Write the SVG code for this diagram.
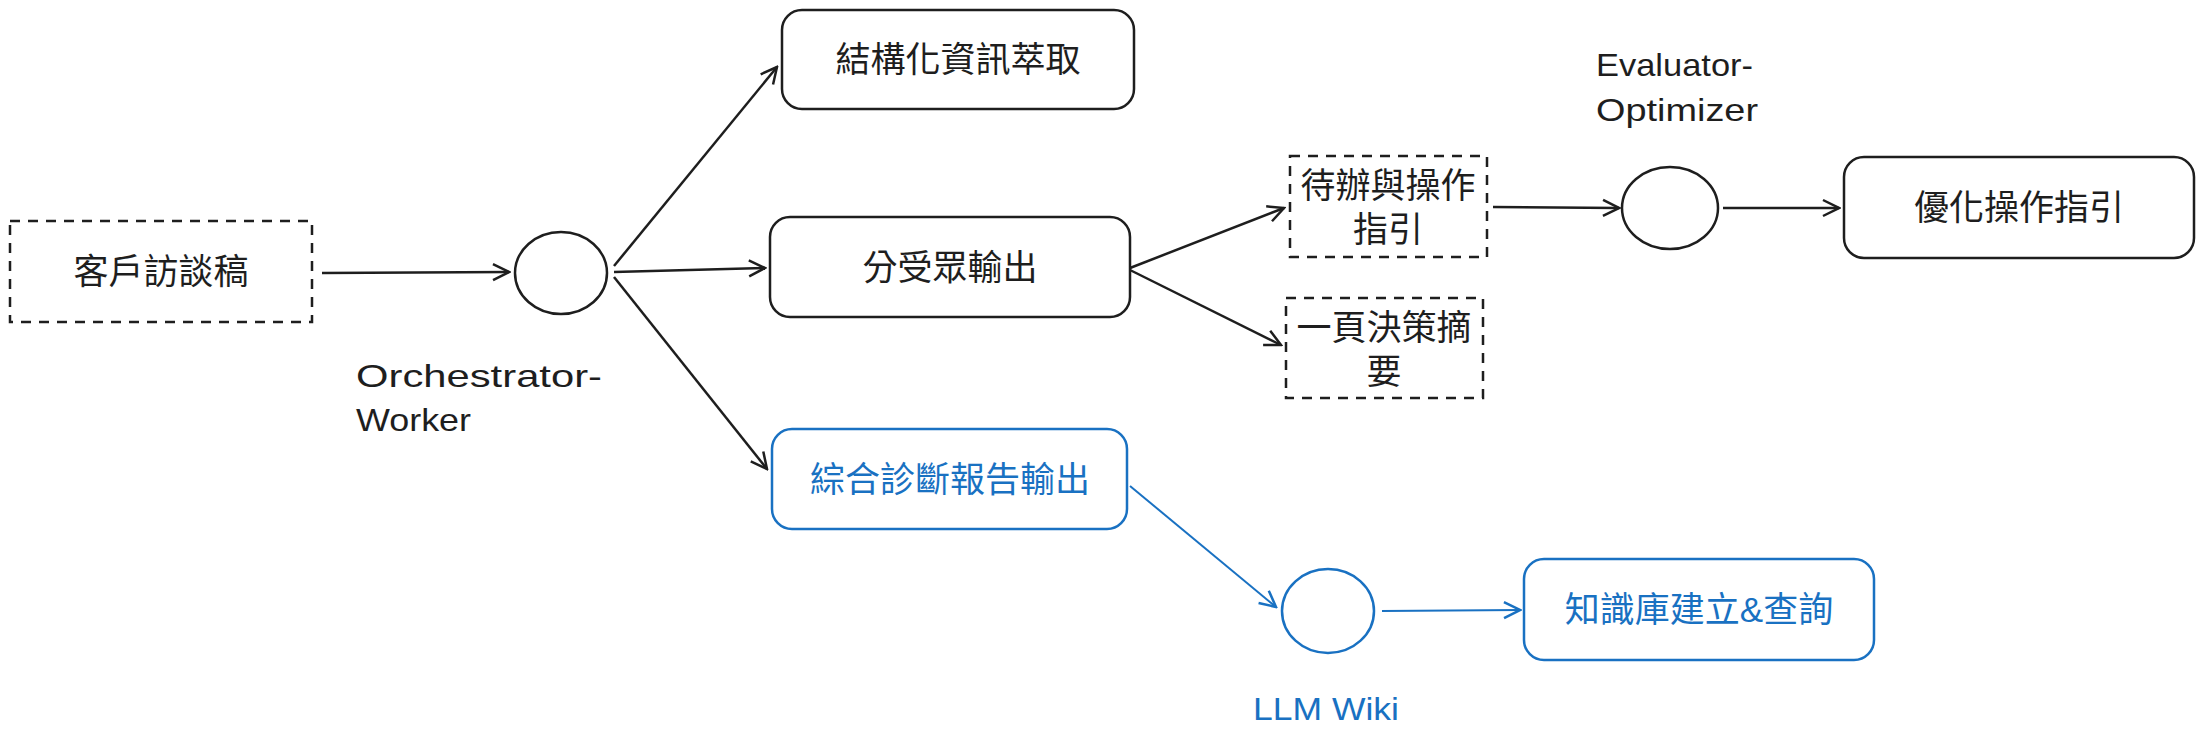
<svg xmlns="http://www.w3.org/2000/svg" width="2203" height="739" viewBox="0 0 2203 739">
<style>
.b{fill:#fff;stroke:#1e1e1e;stroke-width:2.5}
.d{fill:#fff;stroke:#1e1e1e;stroke-width:2.5;stroke-dasharray:10 8}
.bl{fill:#fff;stroke:#1971c2;stroke-width:2.5}
.t{font-family:"Liberation Sans","Noto Sans CJK TC",sans-serif;font-size:35px;fill:#1e1e1e;text-anchor:middle;dominant-baseline:central}
.tb{fill:#1971c2}
.l{font-family:"Liberation Sans",sans-serif;font-size:32px;fill:#1e1e1e}
.c{stroke:#1e1e1e;stroke-width:2.5;fill:none}
.cb{stroke:#1971c2;stroke-width:2;fill:none}
</style>
<defs>
<marker id="a" markerWidth="20" markerHeight="20" refX="18" refY="10" orient="auto" markerUnits="userSpaceOnUse"><path d="M2,2 L18,10 L2,18" fill="none" stroke="#1e1e1e" stroke-width="2.5"/></marker>
<marker id="ab" markerWidth="20" markerHeight="20" refX="18" refY="10" orient="auto" markerUnits="userSpaceOnUse"><path d="M2,2 L18,10 L2,18" fill="none" stroke="#1971c2" stroke-width="2.5"/></marker>
</defs>
<g id="connectors">
<path class="c" d="M322,273 L509,272" marker-end="url(#a)"/>
<path class="c" d="M614,266 L777,67" marker-end="url(#a)"/>
<path class="c" d="M614,272 L765,268" marker-end="url(#a)"/>
<path class="c" d="M614,277 L767,469" marker-end="url(#a)"/>
<path class="c" d="M1130,268 L1284,208" marker-end="url(#a)"/>
<path class="c" d="M1130,270 L1281,345" marker-end="url(#a)"/>
<path class="c" d="M1493,207 L1619,208" marker-end="url(#a)"/>
<path class="c" d="M1723,208 L1839,208" marker-end="url(#a)"/>
<path class="cb" d="M1130,486 L1276,607" marker-end="url(#ab)"/>
<path class="cb" d="M1382,611 L1520,610" marker-end="url(#ab)"/>
</g>
<g id="n1"><rect class="d" x="10" y="221" width="302" height="101"/><text class="t" x="161" y="271">客戶訪談稿</text></g>
<g id="n2"><ellipse class="b" cx="561" cy="273" rx="46" ry="41"/><text class="l" x="356" y="387" textLength="246" lengthAdjust="spacingAndGlyphs">Orchestrator-</text><text class="l" x="356" y="431" textLength="115" lengthAdjust="spacingAndGlyphs">Worker</text></g>
<g id="n3"><rect class="b" x="782" y="10" width="352" height="99" rx="20"/><text class="t" x="958" y="59">結構化資訊萃取</text></g>
<g id="n4"><rect class="b" x="770" y="217" width="360" height="100" rx="20"/><text class="t" x="950" y="267">分受眾輸出</text></g>
<g id="n5"><rect class="bl" x="772" y="429" width="355" height="100" rx="20"/><text class="t tb" x="950" y="479">綜合診斷報告輸出</text></g>
<g id="n6"><rect class="d" x="1290" y="156" width="197" height="101"/><text class="t" x="1388" y="185">待辦與操作</text><text class="t" x="1388" y="229">指引</text></g>
<g id="n7"><rect class="d" x="1286" y="298" width="197" height="100"/><text class="t" x="1384" y="327">一頁決策摘</text><text class="t" x="1384" y="371">要</text></g>
<g id="n8"><ellipse class="b" cx="1670" cy="208" rx="48" ry="41"/><text class="l" x="1596" y="76" textLength="157" lengthAdjust="spacingAndGlyphs">Evaluator-</text><text class="l" x="1596" y="121" textLength="162" lengthAdjust="spacingAndGlyphs">Optimizer</text></g>
<g id="n9"><rect class="b" x="1844" y="157" width="350" height="101" rx="20"/><text class="t" x="2019" y="207">優化操作指引</text></g>
<g id="n10"><ellipse class="bl" cx="1328" cy="611" rx="46" ry="42"/><text class="l" x="1253" y="720" textLength="146" lengthAdjust="spacingAndGlyphs" style="fill:#1971c2">LLM Wiki</text></g>
<g id="n11"><rect class="bl" x="1524" y="559" width="350" height="101" rx="20"/><text class="t tb" x="1699" y="609">知識庫建立&amp;查詢</text></g>
</svg>
